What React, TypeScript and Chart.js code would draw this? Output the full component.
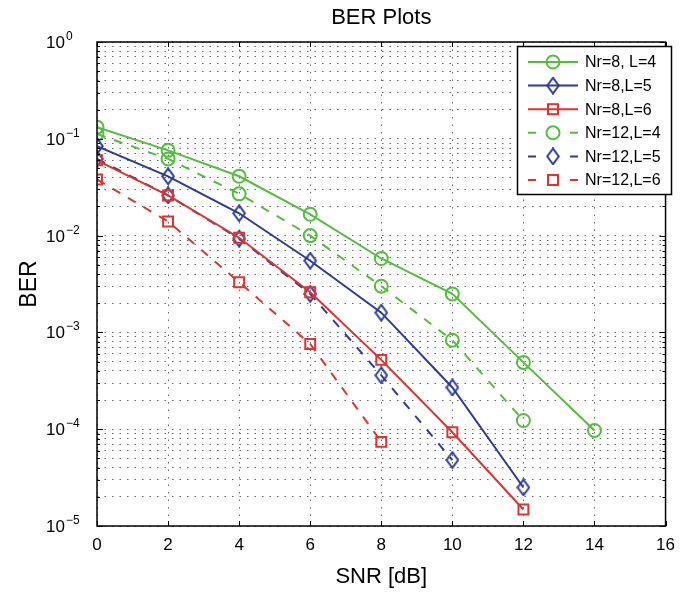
import React, { useEffect, useRef } from 'react';
import { Chart, registerables } from 'chart.js';

Chart.register(...registerables);

const snr8L4 = [0, 2, 4, 6, 8, 10, 12, 14];
const ber8L4 = [0.132, 0.076, 0.041, 0.0166, 0.0058, 0.0025, 0.00049, 0.000097];
const snr8L5 = [0, 2, 4, 6, 8, 10, 12];
const ber8L5 = [0.084, 0.041, 0.017, 0.0055, 0.0016, 0.00027, 0.000025];
const snr8L6 = [0, 2, 4, 6, 8, 10, 12];
const ber8L6 = [0.06, 0.026, 0.0095, 0.0026, 0.00052, 0.000093, 0.0000148];
const snr12L4 = [0, 2, 4, 6, 8, 10, 12];
const ber12L4 = [0.112, 0.062, 0.027, 0.010, 0.0030, 0.00083, 0.000123];
const snr12L5 = [0, 2, 4, 6, 8, 10];
const ber12L5 = [0.062, 0.026, 0.0093, 0.0025, 0.00036, 0.000048];
const snr12L6 = [0, 2, 4, 6, 8];
const ber12L6 = [0.038, 0.014, 0.0033, 0.00076, 0.000074];

const seriesLabels = ['Nr=8, L=4', 'Nr=8,L=5', 'Nr=8,L=6', 'Nr=12,L=4', 'Nr=12,L=5', 'Nr=12,L=6'];
const xTicks = [0, 2, 4, 6, 8, 10, 12, 14, 16];
const yExponents = [0, -1, -2, -3, -4, -5];

const GREEN = '#52bf3c';
const BLUE = '#2b3b9e';
const RED = '#e0332b';
const FONT = '"Liberation Sans", Arial, Helvetica, sans-serif';

function makeDiamond(color: string) {
  const c = document.createElement('canvas');
  c.width = 14;
  c.height = 18;
  const ctx = c.getContext('2d')!;
  ctx.strokeStyle = color;
  ctx.lineWidth = 2;
  ctx.beginPath();
  ctx.moveTo(7, 1.2);
  ctx.lineTo(12.8, 9);
  ctx.lineTo(7, 16.8);
  ctx.lineTo(1.2, 9);
  ctx.closePath();
  ctx.stroke();
  return c;
}

export default function App() {
  const ref = useRef<HTMLCanvasElement>(null);
  useEffect(() => {
    const blueDiamond = makeDiamond(BLUE);
    const mk = (xs: number[], ys: number[]) => xs.map((x, i) => ({ x, y: ys[i] }));
    const base = {
      borderWidth: 2,
      pointBorderWidth: 2,
      pointBackgroundColor: 'rgba(0,0,0,0)',
      backgroundColor: 'rgba(0,0,0,0)',
      tension: 0,
    };
    const styles = [
      { color: GREEN, marker: 'circle', dashed: false },
      { color: BLUE, marker: 'diamond', dashed: false },
      { color: RED, marker: 'square', dashed: false },
      { color: GREEN, marker: 'circle', dashed: true },
      { color: BLUE, marker: 'diamond', dashed: true },
      { color: RED, marker: 'square', dashed: true },
    ];
    const pointProps = (m: string) =>
      m === 'circle'
        ? { pointStyle: 'circle', pointRadius: 6.5 }
        : m === 'square'
        ? { pointStyle: 'rect', pointRadius: 7 }
        : { pointStyle: blueDiamond, pointRadius: 8 };
    const datas = [
      mk(snr8L4, ber8L4),
      mk(snr8L5, ber8L5),
      mk(snr8L6, ber8L6),
      mk(snr12L4, ber12L4),
      mk(snr12L5, ber12L5),
      mk(snr12L6, ber12L6),
    ];
    const datasets = datas.map((d, i) => ({
      ...base,
      ...pointProps(styles[i].marker),
      label: seriesLabels[i],
      data: d,
      borderColor: styles[i].color,
      pointBorderColor: styles[i].color,
      borderDash: styles[i].dashed ? [9, 9] : [],
    }));

    const deco = {
      id: 'deco',
      afterDraw(chart: any) {
        const ctx = chart.ctx as CanvasRenderingContext2D;
        const a = chart.chartArea;
        const xs = chart.scales.x;
        const ys = chart.scales.y;
        ctx.save();
        // tick marks inside
        ctx.strokeStyle = '#000';
        ctx.lineWidth = 1;
        ctx.beginPath();
        xTicks.forEach((t) => {
          const px = Math.round(xs.getPixelForValue(t)) + 0.5;
          ctx.moveTo(px, a.bottom);
          ctx.lineTo(px, a.bottom - 5);
          ctx.moveTo(px, a.top);
          ctx.lineTo(px, a.top + 5);
        });
        for (let e = -5; e <= 0; e++) {
          for (let m = 1; m <= 9; m++) {
            const v = m * Math.pow(10, e);
            if (v > 1) break;
            const py = Math.round(ys.getPixelForValue(v)) + 0.5;
            const len = m === 1 ? 6 : 3;
            ctx.moveTo(a.left, py);
            ctx.lineTo(a.left + len, py);
            ctx.moveTo(a.right, py);
            ctx.lineTo(a.right - len, py);
          }
        }
        ctx.stroke();
        // frame
        ctx.lineWidth = 1.5;
        ctx.strokeRect(a.left, a.top, a.right - a.left, a.bottom - a.top);
        // y tick labels
        ctx.fillStyle = '#000';
        ctx.textBaseline = 'alphabetic';
        yExponents.forEach((e) => {
          const py = ys.getPixelForValue(Math.pow(10, e));
          const expStr = e === 0 ? '0' : '\u2212' + String(-e);
          ctx.font = '17px ' + FONT;
          ctx.textAlign = 'right';
          ctx.fillText('10', 65, py + 6);
          ctx.font = '12px ' + FONT;
          ctx.textAlign = 'left';
          ctx.fillText(expStr, 66, py - 2);
        });
        // title and axis titles
        ctx.textAlign = 'center';
        ctx.textBaseline = 'middle';
        ctx.font = '22px ' + FONT;
        ctx.fillText('BER Plots', (a.left + a.right) / 2, 18);
        ctx.font = '22px ' + FONT;
        ctx.fillText('SNR [dB]', (a.left + a.right) / 2, 577);
        ctx.save();
        ctx.translate(30, (a.top + a.bottom) / 2);
        ctx.rotate(-Math.PI / 2);
        ctx.font = '23px ' + FONT;
        ctx.fillText('BER', 0, 0);
        ctx.restore();
        // legend
        const lx = 517.5, ly = 46.5, lw = 154, lh = 148;
        ctx.fillStyle = '#fff';
        ctx.fillRect(lx, ly, lw, lh);
        ctx.strokeStyle = '#000';
        ctx.lineWidth = 1.5;
        ctx.strokeRect(lx, ly, lw, lh);
        styles.forEach((s, i) => {
          const y = 62 + i * 23.6;
          ctx.strokeStyle = s.color;
          ctx.lineWidth = 2;
          ctx.setLineDash([]);
          ctx.beginPath();
          if (s.dashed) {
            ctx.moveTo(528, y);
            ctx.lineTo(536, y);
            ctx.moveTo(570, y);
            ctx.lineTo(578, y);
          } else {
            ctx.moveTo(528, y);
            ctx.lineTo(578, y);
          }
          ctx.stroke();
          const cx = 553;
          if (s.marker === 'circle') {
            ctx.beginPath();
            ctx.arc(cx, y, 6.5, 0, Math.PI * 2);
            ctx.stroke();
          } else if (s.marker === 'square') {
            ctx.strokeRect(cx - 5, y - 5, 10, 10);
          } else {
            ctx.drawImage(blueDiamond, cx - 7, y - 9);
          }
          ctx.fillStyle = '#000';
          ctx.font = '16px ' + FONT;
          ctx.textAlign = 'left';
          ctx.textBaseline = 'middle';
          ctx.fillText(seriesLabels[i], 585, y + 1);
        });
        ctx.restore();
      },
    };

    const gridColor = 'rgba(40,40,40,0.7)';
    const chart = new Chart(ref.current!, {
      type: 'line',
      data: { datasets: datasets as any },
      options: {
        animation: false,
        responsive: false,
        devicePixelRatio: 1,
        layout: { padding: { left: 0, right: 12, top: 42, bottom: 0 } },
        plugins: { legend: { display: false }, title: { display: false }, tooltip: { enabled: false } },
        scales: {
          x: {
            type: 'linear',
            min: 0,
            max: 16,
            afterBuildTicks: (s: any) => {
              s.ticks = xTicks.map((v) => ({ value: v }));
            },
            afterFit: (s: any) => {
              s.height = 68;
            },
            ticks: { font: { size: 17, family: FONT }, color: '#000', padding: 9, maxRotation: 0, autoSkip: false },
            grid: { drawTicks: false, color: gridColor, lineWidth: 1 },
            border: { display: false, dash: [1.5, 6] },
          },
          y: {
            type: 'logarithmic',
            min: 1e-5,
            max: 1,
            afterBuildTicks: (s: any) => {
              const t: any[] = [];
              for (let e = -5; e <= 0; e++) {
                for (let m = 1; m <= 9; m++) {
                  const v = m * Math.pow(10, e);
                  if (v > 1) break;
                  t.push({ value: v, major: m === 1 });
                }
              }
              s.ticks = t;
            },
            afterFit: (s: any) => {
              s.width = 97;
            },
            ticks: { display: false },
            grid: { drawTicks: false, color: gridColor, lineWidth: 1 },
            border: { display: false, dash: [1.5, 6] },
          },
        },
      },
      plugins: [deco],
    } as any);
    return () => chart.destroy();
  }, []);
  return (
    <div style={{ position: 'fixed', left: 0, top: 0, width: 684, height: 594, background: '#fff' }}>
      <canvas ref={ref} width={684} height={594} style={{ width: 684, height: 594 }} />
    </div>
  );
}
